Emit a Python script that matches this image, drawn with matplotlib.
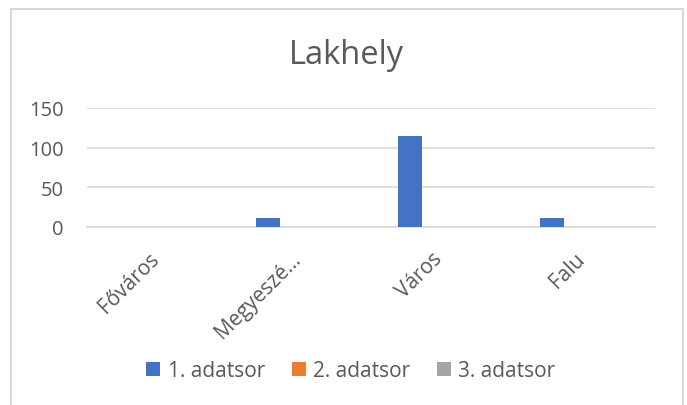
import matplotlib.pyplot as plt
from matplotlib.patches import Rectangle
from matplotlib.transforms import ScaledTranslation
import numpy as np

plt.rcParams['font.family'] = ['Open Sans', 'DejaVu Sans']

categories = ['Főváros', 'Megyeszé…', 'Város', 'Falu']
series_names = ['1. adatsor', '2. adatsor', '3. adatsor']
series1 = [0, 11, 115, 11]
series2 = [0, 0, 0, 0]
series3 = [0, 0, 0, 0]
colors = ['#4472C4', '#ED7D31', '#A5A5A5']
yticks = [0, 50, 100, 150]

W, H = 687, 406
fig = plt.figure(figsize=(W / 100, H / 100), dpi=100)
ax = fig.add_axes([87 / W, 1 - 228 / H, (655 - 87) / W, (228 - 109) / H])

x = np.arange(len(categories))
bw = 0.17
offs = [-0.225, 0, 0.225]
for vals, name, col, off in zip([series1, series2, series3], series_names, colors, offs):
    ax.bar(x + off, vals, bw, color=col, label=name, zorder=3)

ax.set_xlim(-0.5, len(categories) - 0.5)
ax.set_ylim(0, 150)
ax.set_yticks(yticks)
ax.yaxis.grid(True, color='#d9d9d9', linewidth=1.2, zorder=0)
for s in ['top', 'right', 'left']:
    ax.spines[s].set_visible(False)
ax.spines['bottom'].set_color('#d9d9d9')
ax.spines['bottom'].set_linewidth(1.2)
ax.tick_params(axis='both', length=0, labelcolor='#595959')
ax.tick_params(axis='y', pad=17, labelsize=14.5)
ax.set_xticks(x)
ax.set_xticklabels(categories, rotation=45, ha='right', va='top', fontsize=15)
ax.tick_params(axis='x', pad=15)
shift = ScaledTranslation(5 / 100, 0, fig.dpi_scale_trans)
for lbl in ax.get_xticklabels():
    lbl.set_transform(lbl.get_transform() + shift)

fig.text(346 / W, 1 - 56 / H, 'Lakhely', ha='center', va='center', fontsize=23.5, color='#595959')

fig.legend(loc='center', bbox_to_anchor=(351 / W, 1 - 372 / H), ncol=3, frameon=False,
           fontsize=15, labelcolor='#595959', handlelength=0.67, handleheight=0.67,
           handletextpad=0.38, columnspacing=1.25)

fig.patches.append(Rectangle((11 / W, -0.1), (683 - 11) / W, 1.1 - 10 / H,
                             transform=fig.transFigure, fill=False,
                             edgecolor='#d9d9d9', linewidth=1.5))

fig.savefig('out.png', dpi=100)
